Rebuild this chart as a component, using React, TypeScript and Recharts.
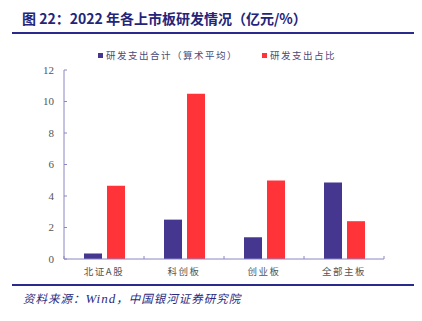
import { Bar, BarChart, XAxis, YAxis } from "recharts";

const boards = ["北证A股", "科创板", "创业板", "全部主板"];
const rdTotal = [0.35, 2.5, 1.38, 4.85];
const rdRatio = [4.65, 10.5, 4.98, 2.4];
const yTicks = [0, 2, 4, 6, 8, 10, 12];

const data = boards.map((b, i) => ({ board: b, total: rdTotal[i], ratio: rdRatio[i] }));

const navy = "#24247a";
const axisColor = "#8a86c4";
const cjk = '"Noto Sans CJK SC", sans-serif';
const serif = '"Liberation Serif", serif';

// category label plus the small boundary marks between categories
function BoardTick(props: any) {
  const { x, y, payload, index } = props;
  const half = payload.offset || 0;
  const last = index === boards.length - 1;
  return (
    <g>
      <line x1={x - half} x2={x - half} y1={y - 15} y2={y - 12} stroke={axisColor} />
      {last && <line x1={x + half} x2={x + half} y1={y - 15} y2={y - 12} stroke={axisColor} />}
      <text
        x={x}
        y={y + 4}
        textAnchor="middle"
        fontFamily={cjk}
        fontSize={9.5}
        letterSpacing={1.5}
        fill="#555"
      >
        {payload.value}
      </text>
    </g>
  );
}

export default function App() {
  return (
    <div style={{ position: "fixed", left: 0, top: 0, width: 422, height: 321, background: "#fff" }}>
      <div
        style={{
          position: "absolute",
          left: 22,
          top: 8,
          fontFamily: cjk,
          fontWeight: 700,
          fontSize: 14,
          color: navy,
          whiteSpace: "nowrap",
        }}
      >
        图 22：2022 年各上市板研发情况（亿元/%）
      </div>
      <div style={{ position: "absolute", left: 12, top: 32, width: 402, height: 2, background: "#2a2a8c" }} />

      <div
        style={{
          position: "absolute",
          left: 98,
          top: 48,
          fontFamily: cjk,
          fontSize: 9.5,
          letterSpacing: 1.5,
          color: "#4a4a7a",
          display: "flex",
          alignItems: "center",
          whiteSpace: "nowrap",
        }}
      >
        <span style={{ width: 5, height: 5, background: "#45368f", marginRight: 3 }} />
        研发支出合计（算术平均）
        <span style={{ width: 5, height: 5, background: "#ff3338", marginLeft: 24, marginRight: 3 }} />
        研发支出占比
      </div>

      <BarChart
        width={422}
        height={321}
        data={data}
        margin={{ top: 70, right: 38, bottom: 42, left: 24 }}
        barSize={18}
        barGap={5}
        style={{ position: "absolute", left: 0, top: 0 }}
      >
        <XAxis
          dataKey="board"
          axisLine={{ stroke: axisColor }}
          tickLine={false}
          height={20}
          tick={<BoardTick />}
          tickMargin={6}
        />
        <YAxis
          domain={[0, 12]}
          ticks={yTicks}
          width={40}
          axisLine={{ stroke: axisColor }}
          tickLine={{ stroke: axisColor }}
          tickSize={-3}
          tickMargin={13}
          tick={{ fontFamily: serif, fontSize: 11, fill: "#555" }}
        />
        <Bar dataKey="total" fill="#45368f" isAnimationActive={false} />
        <Bar dataKey="ratio" fill="#ff3338" isAnimationActive={false} />
      </BarChart>

      <div style={{ position: "absolute", left: 12, top: 284, width: 402, height: 2, background: "#2a2a8c" }} />
      <div
        style={{
          position: "absolute",
          left: 23,
          top: 290,
          fontFamily: cjk,
          fontStyle: "italic",
          fontSize: 11.5,
          letterSpacing: 1,
          color: "#2a2a80",
          whiteSpace: "nowrap",
        }}
      >
        资料来源：<span style={{ fontFamily: serif, fontSize: 13 }}>Wind</span>，中国银河证券研究院
      </div>
    </div>
  );
}
